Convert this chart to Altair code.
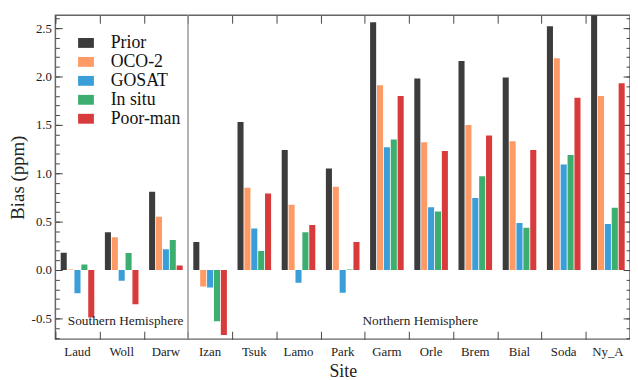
import altair as alt
import pandas as pd

sites = ["Laud", "Woll", "Darw", "Izan", "Tsuk", "Lamo", "Park",
         "Garm", "Orle", "Brem", "Bial", "Soda", "Ny_A"]
series = ["Prior", "OCO-2", "GOSAT", "In situ", "Poor-man"]

prior = [0.18, 0.39, 0.81, 0.29, 1.53, 1.24, 1.05, 2.56, 1.98, 2.16, 1.99, 2.52, 2.70]
oco2 = [0.005, 0.34, 0.55, -0.17, 0.85, 0.675, 0.86, 1.91, 1.32, 1.50, 1.33, 2.19, 1.80]
gosat = [-0.24, -0.11, 0.215, -0.18, 0.43, -0.13, -0.235, 1.27, 0.65, 0.745, 0.487, 1.09, 0.477]
insitu = [0.058, 0.176, 0.31, -0.53, 0.197, 0.39, 0.005, 1.35, 0.605, 0.97, 0.436, 1.19, 0.643]
poorman = [-0.49, -0.354, 0.047, -0.67, 0.79, 0.466, 0.29, 1.80, 1.23, 1.39, 1.24, 1.78, 1.93]

colors = ["#3c3c3c", "#fd9a65", "#3a9ed8", "#3caf70", "#d83b3b"]

y_major = [-0.5, 0.0, 0.5, 1.0, 1.5, 2.0, 2.5]
y_minor = [-0.7, -0.6, -0.5, -0.4, -0.3, -0.2, -0.1, 0.0, 0.1, 0.2, 0.3, 0.4,
           0.5, 0.6, 0.7, 0.8, 0.9, 1.0, 1.1, 1.2, 1.3, 1.4, 1.5, 1.6, 1.7,
           1.8, 1.9, 2.0, 2.1, 2.2, 2.3, 2.4, 2.5, 2.6]
y_domain = [-0.714, 2.633]

separator_site = ["Izan"]
south_label = ["Southern Hemisphere"]
south_site = ["Woll"]
north_label = ["Northern Hemisphere"]
north_site = ["Orle"]
hemi_y = [-0.525]

rows = []
for s_name, vals in zip(series, [prior, oco2, gosat, insitu, poorman]):
    for site, v in zip(sites, vals):
        rows.append({"site": site, "series": s_name, "value": v})
df = pd.DataFrame(rows)

FONT = "'Liberation Serif', 'Times New Roman', Times, serif"
TICK = "#444444"

xsc = alt.Scale(domain=sites, paddingInner=0, paddingOuter=0)
ysc = alt.Scale(domain=y_domain, nice=False, zero=False)

base = alt.Chart(df)

bars = base.mark_bar(clip=True).encode(
    x=alt.X("site:N", scale=xsc, sort=sites,
            axis=alt.Axis(orient="bottom", title="Site", ticks=False, tickSize=0,
                          domain=False, labelPadding=7, labelFontSize=13,
                          labelFont=FONT, titleFont=FONT,
                          labelColor="#222222", labelAngle=0,
                          titleFontSize=18, titleFontWeight="normal",
                          titleColor="#222222", titleY=38,
                          titleBaseline="alphabetic")),
    xOffset=alt.XOffset("series:N", sort=series,
                        scale=alt.Scale(domain=series, paddingInner=0.12,
                                        paddingOuter=0.77)),
    y=alt.Y("value:Q", scale=ysc, stack=None,
            axis=alt.Axis(orient="left", title="Bias (ppm)", values=y_major,
                          ticks=False, tickSize=0, domain=False, grid=False,
                          labelFont=FONT, titleFont=FONT,
                          labelPadding=4, labelFontSize=13, labelColor="#222222",
                          labelExpr="replace(format(datum.value, '.1f'), '\u2212', '-')",
                          titleFontSize=19, titleFontWeight="normal",
                          titleColor="#222222", titlePadding=4)),
    color=alt.Color("series:N", sort=series,
                    scale=alt.Scale(domain=series, range=colors),
                    legend=alt.Legend(title=None, orient="none", legendX=22,
                                      legendY=19, padding=0,
                                      symbolType="M-1,-0.625H1V0.625H-1Z",
                                      symbolSize=256, symbolStrokeWidth=0,
                                      labelFontSize=18, labelFont=FONT,
                                      labelColor="#111111", labelOffset=16,
                                      rowPadding=1.2)),
)

inv = base.mark_point(opacity=0)

ticks2 = inv.encode(
    x=alt.X("site:N", scale=xsc, sort=sites,
            axis=alt.Axis(orient="bottom", offset=-8, tickBand="extent",
                          tickSize=8, tickColor=TICK, tickWidth=1,
                          labels=False, domain=False, title=None, grid=False)),
    y=alt.Y("value:Q", scale=ysc,
            axis=alt.Axis(orient="left", offset=-7, values=y_major, tickSize=7,
                          tickColor=TICK, tickWidth=1, labels=False,
                          domain=False, title=None, grid=False)),
)
ticks3 = inv.encode(
    x=alt.X("site:N", scale=xsc, sort=sites,
            axis=alt.Axis(orient="top", offset=-8, tickBand="extent",
                          tickSize=8, tickColor=TICK, tickWidth=1,
                          labels=False, domain=False, title=None, grid=False)),
    y=alt.Y("value:Q", scale=ysc,
            axis=alt.Axis(orient="left", offset=-4, values=y_minor, tickSize=4,
                          tickColor=TICK, tickWidth=1, labels=False,
                          domain=False, title=None, grid=False)),
)
ticks4 = inv.encode(
    x=alt.X("site:N", scale=xsc, sort=sites, axis=None),
    y=alt.Y("value:Q", scale=ysc,
            axis=alt.Axis(orient="right", offset=-7, values=y_major, tickSize=7,
                          tickColor=TICK, tickWidth=1, labels=False,
                          domain=False, title=None, grid=False)),
)
ticks5 = inv.encode(
    x=alt.X("site:N", scale=xsc, sort=sites, axis=None),
    y=alt.Y("value:Q", scale=ysc,
            axis=alt.Axis(orient="right", offset=-4, values=y_minor, tickSize=4,
                          tickColor=TICK, tickWidth=1, labels=False,
                          domain=False, title=None, grid=False)),
)

sep = alt.Chart(pd.DataFrame({"site": separator_site})).mark_rule(
    color="#999999", strokeWidth=1.5
).encode(x=alt.X("site:N", scale=xsc, sort=sites, bandPosition=0, axis=None))

south = alt.Chart(pd.DataFrame({"site": south_site, "label": south_label, "y": hemi_y})).mark_text(
    font=FONT, fontSize=13.5, color="#222222", dx=4, baseline="middle"
).encode(
    x=alt.X("site:N", scale=xsc, sort=sites, axis=None),
    y=alt.Y("y:Q", scale=ysc, axis=None),
    text="label:N",
)
north = alt.Chart(pd.DataFrame({"site": north_site, "label": north_label, "y": hemi_y})).mark_text(
    font=FONT, fontSize=13.5, color="#222222", dx=-11, baseline="middle"
).encode(
    x=alt.X("site:N", scale=xsc, sort=sites, axis=None),
    y=alt.Y("y:Q", scale=ysc, axis=None),
    text="label:N",
)

chart = alt.layer(bars, ticks2, ticks3, ticks4, ticks5, sep, south, north).resolve_axis(
    x="independent", y="independent"
).properties(
    width=582, height=328, autosize="none",
    padding={"left": 48, "top": 5, "right": 0, "bottom": 39},
).configure(
    font=FONT,
).configure_axis(
    labelFont=FONT, titleFont=FONT,
).configure_legend(
    labelFont=FONT,
).configure_view(
    stroke="#666666", strokeWidth=1.5,
)

chart.save("out.html", embed_options={"renderer": "svg", "actions": False})
